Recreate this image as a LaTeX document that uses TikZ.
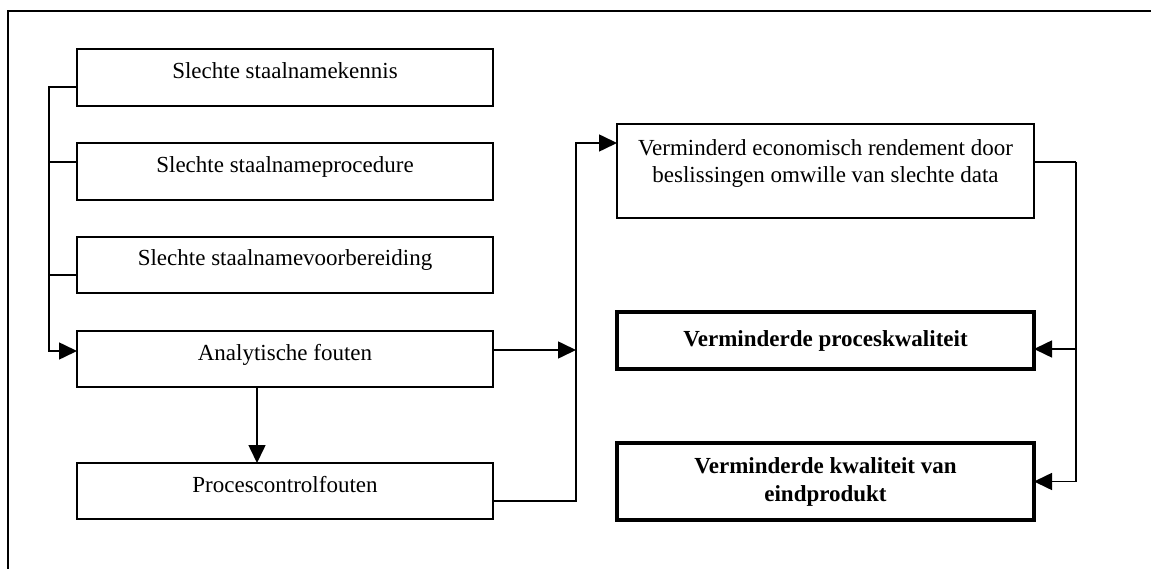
\documentclass[tikz,border=0pt]{standalone}
\usepackage{fontspec}
\setmainfont{Liberation Serif}
\usetikzlibrary{arrows.meta}
\begin{document}
\begin{tikzpicture}[x=1pt,y=-1pt,
  box/.style={draw, line width=1.6pt, minimum width=416pt, inner sep=0pt, outer sep=0pt, align=center, font=\fontsize{23}{27}\selectfont},
  leftbox/.style={box, text height=16pt, text depth=14pt},
  boldbox/.style={box, line width=3.5pt, minimum width=417pt, font=\fontsize{23}{28}\selectfont\bfseries},
  conn/.style={line width=1.6pt},
  arr/.style={conn, -{Triangle[length=18pt,width=17pt]}},
]
\useasboundingbox (0,0) rectangle (1151,569);
\draw[line width=1.8pt] (8,569) -- (8,11) -- (1151,11);

\node[leftbox, minimum height=57pt] (b1) at (285,77.5) {Slechte staalnamekennis};
\node[leftbox, minimum height=57pt] (b2) at (285,171.5) {Slechte staalnameprocedure};
\node[leftbox, minimum height=56pt] (b3) at (285,265) {Slechte staalnamevoorbereiding};
\node[leftbox, minimum height=56pt] (an) at (285,359) {Analytische fouten};
\node[leftbox, minimum height=56pt] (pc) at (285,491) {Procescontrolfouten};

\node[box, line width=1.3pt, minimum width=417pt, minimum height=94pt] (r1) at (825.5,171) {};
\node[anchor=north, align=center, inner sep=0pt, font=\fontsize{23}{27}\selectfont] (r1t) at ([yshift=-15pt]r1.north) {Verminderd economisch rendement door\\beslissingen omwille van slechte data};
\node[boldbox, minimum height=57pt] (r2) at (825.5,340.5) {Verminderde proceskwaliteit};
\node[boldbox, minimum height=77pt] (r3) at (825.5,481.5) {Verminderde kwaliteit van\\eindprodukt};

% left spine
\draw[arr] ([yshift=-9.5pt]b1.west) -- ++(-28,0) |- ([yshift=8pt]an.west);
\draw[conn] ([yshift=9.5pt]b2.west) -- ++(-28,0);
\draw[conn] ([yshift=-10pt]b3.west) -- ++(-28,0);

% analytische -> procescontrol
\draw[arr] ([xshift=-28pt]an.south) -- ([xshift=-28pt]pc.north);

% middle spine
\draw[arr] ([yshift=9pt]an.east) -- ++(83,0);
\draw[arr] ([yshift=-10pt]pc.east) -- ++(83,0) |- ([yshift=28pt]r1.west);

% right spine
\draw[conn] ([yshift=9pt]r1.east) -- ++(42,0) coordinate (rs);
\draw[arr] (rs) |- (r3.east);
\path ([yshift=-8.5pt]r2.east) coordinate (r2in);
\draw[arr] (r2in -| rs) -- (r2in);
\end{tikzpicture}
\end{document}
